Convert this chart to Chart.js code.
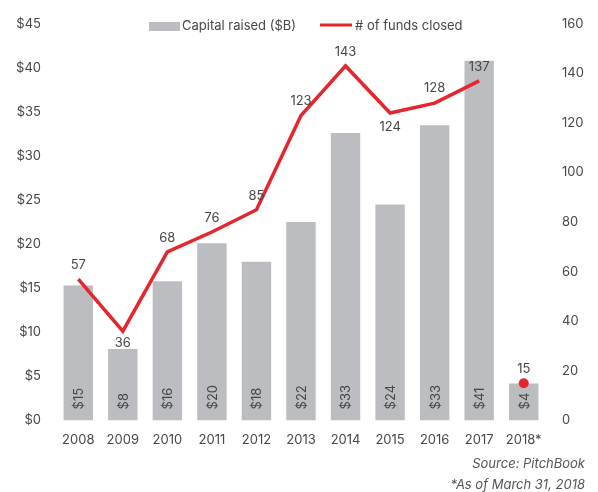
<!DOCTYPE html>
<html><head><meta charset="utf-8">
<script src="https://cdn.jsdelivr.net/npm/chart.js@4/dist/chart.umd.min.js"></script>
<style>html,body{margin:0;padding:0;background:#fff}#wrap{width:598px;height:492px;position:relative}</style>
</head><body><div id="wrap"><canvas id="c" width="598" height="492"></canvas></div>
<script>
const categories = ['2008','2009','2010','2011','2012','2013','2014','2015','2016','2017','2018*'];
const capitalRaised = [15.3, 8.1, 15.8, 20.1, 18.0, 22.5, 32.6, 24.5, 33.5, 40.8, 4.2];
const capitalLabels = ['$15','$8','$16','$20','$18','$22','$33','$24','$33','$41','$4'];
const fundsClosed = [57, 36, 68, 76, 85, 123, 143, 124, 128, 137, null];
const fundsPartial = [null, null, null, null, null, null, null, null, null, null, 15];
const leftTicks = [0,5,10,15,20,25,30,35,40,45];
const rightTicks = [0,20,40,60,80,100,120,140,160];
const sourceLines = ['Source: PitchBook', '*As of March 31, 2018'];

const FONT = "Inter, 'Open Sans', sans-serif";
const TXT = '#474747';
const GRAY = '#bcbdc0';
const RED = '#e5262d';
const labelOffset = [-14, 12, -14, -14, -14, -14, -14, 14, -15, -14, -14];

const labelsPlugin = {
  id: 'customLabels',
  afterDatasetsDraw(chart) {
    const ctx = chart.ctx;
    ctx.save();
    ctx.font = "13px " + FONT;
    ctx.fillStyle = TXT;
    const barMeta = chart.getDatasetMeta(0);
    barMeta.data.forEach((bar, i) => {
      ctx.save();
      ctx.translate(bar.x + 1, chart.scales.y.bottom - 11);
      ctx.rotate(-Math.PI/2);
      ctx.textAlign = 'left';
      ctx.textBaseline = 'middle';
      ctx.fillText(capitalLabels[i], 0, 0);
      ctx.restore();
    });
    [1,2].forEach(di => {
      const meta = chart.getDatasetMeta(di);
      const data = chart.data.datasets[di].data;
      meta.data.forEach((pt, i) => {
        if (data[i] == null) return;
        ctx.textAlign = 'center';
        ctx.textBaseline = 'middle';
        ctx.fillText(String(data[i]), pt.x, pt.y + labelOffset[i]);
      });
    });
    ctx.restore();
  },
  afterDraw(chart) {
    const ctx = chart.ctx;
    ctx.save();
    ctx.font = "13px " + FONT;
    ctx.fillStyle = GRAY;
    ctx.fillRect(149, 22, 31, 9);
    ctx.fillStyle = TXT;
    ctx.textBaseline = 'middle';
    ctx.textAlign = 'left';
    ctx.fillText('Capital raised ($B)', 182, 26);
    ctx.strokeStyle = RED;
    ctx.lineWidth = 3;
    ctx.beginPath(); ctx.moveTo(320, 25); ctx.lineTo(352, 25); ctx.stroke();
    ctx.fillText('# of funds closed', 355, 26);
    ctx.font = "italic 13px " + FONT;
    ctx.fillStyle = '#555';
    ctx.textAlign = 'right';
    ctx.fillText(sourceLines[0], 585, 464);
    ctx.fillText(sourceLines[1], 585, 485);
    ctx.restore();
  }
};

new Chart(document.getElementById('c'), {
  data: {
    labels: categories,
    datasets: [
      { type: 'bar', label: 'Capital raised ($B)', data: capitalRaised, backgroundColor: GRAY, yAxisID: 'y', barPercentage: 0.66, categoryPercentage: 1, order: 3 },
      { type: 'line', label: '# of funds closed', data: fundsClosed, borderColor: RED, borderWidth: 3.5, pointRadius: 0, tension: 0, yAxisID: 'y1', order: 1, spanGaps: false },
      { type: 'line', label: 'partial', data: fundsPartial, borderColor: RED, backgroundColor: RED, pointRadius: 5, pointBorderWidth: 0, showLine: false, yAxisID: 'y1', order: 0 }
    ]
  },
  options: {
    responsive: false,
    animation: false,
    layout: { padding: { top: 20, bottom: 32, left: 0, right: 0 } },
    plugins: { legend: { display: false }, tooltip: { enabled: false } },
    scales: {
      x: {
        grid: { display: false, drawTicks: false }, border: { display: false },
        ticks: { color: TXT, font: { family: FONT, size: 13 }, padding: 12, maxRotation: 0, autoSkip: false }
      },
      y: {
        position: 'left', min: 0, max: 45,
        afterBuildTicks: s => { s.ticks = leftTicks.map(v => ({ value: v })); },
        afterFit: s => { s.width = 56; },
        grid: { display: false, drawTicks: false }, border: { display: false },
        ticks: { color: TXT, font: { family: FONT, size: 13 }, padding: 15, callback: v => '$' + v }
      },
      y1: {
        position: 'right', min: 0, max: 160,
        afterBuildTicks: s => { s.ticks = rightTicks.map(v => ({ value: v })); },
        afterFit: s => { s.width = 52; },
        grid: { display: false, drawTicks: false }, border: { display: false },
        ticks: { color: TXT, font: { family: FONT, size: 13 }, padding: 16 }
      }
    }
  },
  plugins: [labelsPlugin]
});
</script></body></html>
